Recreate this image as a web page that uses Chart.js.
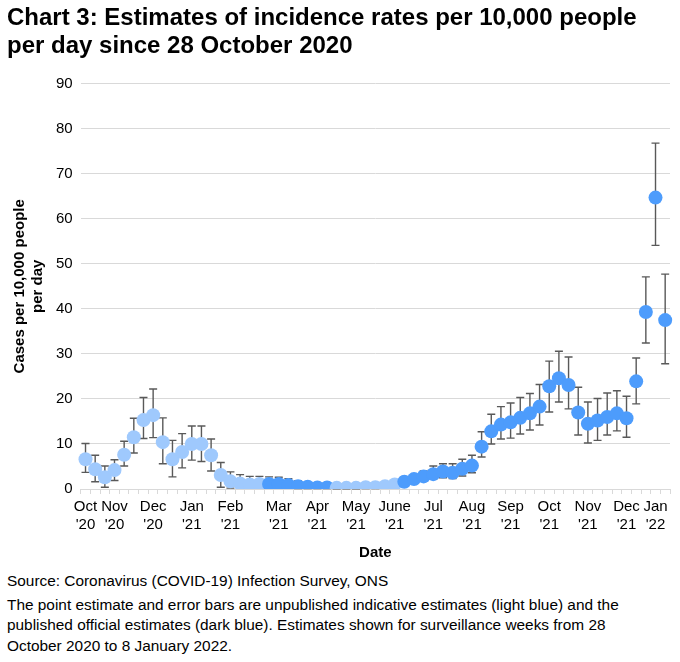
<!DOCTYPE html>
<html>
<head>
<meta charset="utf-8">
<script src="https://cdn.jsdelivr.net/npm/chart.js@4.4.1/dist/chart.umd.min.js"></script>
<style>
  body { margin: 0; background: #fff; font-family: "Liberation Sans", Arial, sans-serif; }
  #wrap { width: 680px; height: 571px; position: relative; }
  .notes { padding: 0 0 0 7px; width: 645px; font-size: 15.4px; color: #000; line-height: 20.5px; }
  .notes p { margin: 0; }
  .notes .src { margin-bottom: 3px; }
</style>
</head>
<body>
<div id="wrap"><canvas id="incidenceChart"></canvas></div>
<div class="notes">
  <p class="src">Source: Coronavirus (COVID-19) Infection Survey, ONS</p>
  <p>The point estimate and error bars are unpublished indicative estimates (light blue) and the published official estimates (dark blue). Estimates shown for surveillance weeks from 28 October 2020 to 8 January 2022.</p>
</div>
<script>
// weekly estimates, one per surveillance week
const estimate = [6.6, 4.4, 2.6, 4.2, 7.6, 11.5, 15.3, 16.4, 10.4, 6.6,
  8.2, 10.0, 10.0, 7.5, 3.1, 1.7, 1.2, 1.0, 1.1, 1.1,
  1.1, 0.9, 0.6, 0.5, 0.35, 0.35, 0.25, 0.25, 0.25, 0.4,
  0.4, 0.6, 1.0, 1.6, 2.2, 2.8, 3.3, 3.9, 3.6, 4.5,
  5.2, 9.4, 12.8, 14.3, 14.8, 15.8, 16.8, 18.3, 22.8, 24.6,
  23.1, 17.0, 14.5, 15.2, 16.0, 16.8, 15.7, 23.9, 39.3, 64.7, 37.5];
const lower = [3.7, 1.6, 0.4, 1.9, 5.1, 8.0, 11.2, 11.4, 5.6, 2.7,
  4.7, 6.4, 6.1, 4.0, 0.4, 0.2, 0.2, 0.2, 0.2, 0.3,
  0.3, 0.2, 0.1, 0.1, 0.1, 0.1, 0.05, 0.05, 0.05, 0.1,
  0.1, 0.2, 0.4, 0.8, 1.2, 1.7, 2.2, 2.5, 2.3, 2.9,
  3.6, 7.1, 10.0, 11.1, 11.3, 12.2, 13.1, 14.2, 17.1, 19.3,
  17.8, 12.0, 10.2, 10.8, 12.0, 12.9, 11.5, 18.9, 32.4, 54.1, 27.8];
const upper = [10.1, 7.5, 5.1, 6.5, 10.6, 15.7, 20.3, 22.2, 15.8, 10.8,
  12.3, 14.0, 14.0, 11.1, 5.9, 3.8, 3.2, 2.8, 2.8, 2.7,
  2.6, 2.3, 1.8, 1.3, 1.0, 1.0, 0.8, 0.8, 0.8, 1.0,
  1.1, 1.4, 1.9, 2.6, 3.2, 4.0, 5.1, 5.6, 5.6, 6.6,
  7.5, 12.7, 16.6, 18.3, 19.1, 20.3, 21.2, 23.2, 28.4, 30.6,
  29.3, 22.6, 19.3, 20.1, 21.3, 21.8, 20.6, 29.1, 47.1, 76.8, 47.7];
// 1 = published official estimate, 0 = unpublished indicative
const published = [0, 0, 0, 0, 0, 0, 0, 0, 0, 0,
  0, 0, 0, 0, 0, 0, 0, 0, 0, 1,
  1, 1, 1, 1, 1, 1, 0, 0, 0, 0,
  0, 0, 0, 1, 1, 1, 1, 1, 1, 1,
  1, 1, 1, 1, 1, 1, 1, 1, 1, 1,
  1, 1, 1, 1, 1, 1, 1, 1, 1, 1, 1];
// month tick labels and the week they sit under
const monthWeek = [0, 3, 7, 11, 15, 20, 24, 28, 32, 36, 40, 44, 48, 52, 56, 59];
const monthLabels = [["Oct", "'20"], ["Nov", "'20"], ["Dec", "'20"], ["Jan", "'21"],
  ["Feb", "'21"], ["Mar", "'21"], ["Apr", "'21"], ["May", "'21"], ["June", "'21"],
  ["Jul", "'21"], ["Aug", "'21"], ["Sep", "'21"], ["Oct", "'21"], ["Nov", "'21"],
  ["Dec", "'21"], ["Jan", "'22"]];
const yTicks = [0, 10, 20, 30, 40, 50, 60, 70, 80, 90];

const LIGHT = "#9fc9fd";
const DARK = "#4d9cfc";
const FONT = "'Liberation Sans', Arial, sans-serif";

const categories = estimate.map(function (v, i) {
  const k = monthWeek.indexOf(i);
  return k >= 0 ? monthLabels[k] : "";
});
const pointColors = published.map(function (p) { return p ? DARK : LIGHT; });

// error bars drawn under the points
const errorBars = {
  id: "errorBars",
  beforeDatasetsDraw: function (chart) {
    const y = chart.scales.y;
    const meta = chart.getDatasetMeta(0);
    const c = chart.ctx;
    c.save();
    c.strokeStyle = "#595959";
    c.lineWidth = 1.4;
    meta.data.forEach(function (pt, i) {
      const top = y.getPixelForValue(upper[i]);
      const bot = y.getPixelForValue(lower[i]);
      c.beginPath();
      c.moveTo(pt.x, top); c.lineTo(pt.x, bot);
      c.moveTo(pt.x - 4, top); c.lineTo(pt.x + 4, top);
      c.moveTo(pt.x - 4, bot); c.lineTo(pt.x + 4, bot);
      c.stroke();
    });
    c.restore();
  }
};

const ctx = document.getElementById("incidenceChart").getContext("2d");
new Chart(ctx, {
  type: "line",
  data: {
    labels: categories,
    datasets: [{
      data: estimate,
      showLine: false,
      pointRadius: 7,
      pointHoverRadius: 7,
      pointBackgroundColor: pointColors,
      pointBorderColor: pointColors,
      pointBorderWidth: 0
    }]
  },
  options: {
    responsive: true,
    maintainAspectRatio: false,
    animation: false,
    layout: { padding: { left: 7, right: 10, top: 0, bottom: 5 } },
    plugins: {
      legend: { display: false },
      tooltip: { enabled: false },
      title: {
        display: true,
        text: ["Chart 3: Estimates of incidence rates per 10,000 people", "per day since 28 October 2020"],
        align: "start",
        color: "#000",
        font: { family: FONT, size: 24, weight: "bold", lineHeight: 1.18 },
        padding: { top: 4, bottom: 23 }
      }
    },
    scales: {
      x: {
        type: "category",
        offset: true,
        grid: { offset: true, drawOnChartArea: false, drawTicks: true, tickLength: 5, color: "#d9d9d9" },
        border: { color: "#d9d9d9" },
        ticks: {
          autoSkip: false, maxRotation: 0, minRotation: 0, padding: 4,
          color: "#000", font: { family: FONT, size: 15 }
        },
        title: {
          display: true, text: "Date", color: "#000",
          font: { family: FONT, size: 15, weight: "bold" }, padding: { top: 6 }
        }
      },
      y: {
        min: 0, max: 90,
        afterBuildTicks: function (axis) { axis.ticks = yTicks.map(function (v) { return { value: v }; }); },
        grid: { color: "#d9d9d9", drawTicks: false },
        border: { display: false },
        ticks: { color: "#000", padding: 8, font: { family: FONT, size: 15 } },
        title: {
          display: true, text: ["Cases per 10,000 people", "per day"], color: "#000",
          font: { family: FONT, size: 15, weight: "bold", lineHeight: 1.2 }, padding: { bottom: 1 }
        }
      }
    }
  },
  plugins: [errorBars]
});
</script>
</body>
</html>
